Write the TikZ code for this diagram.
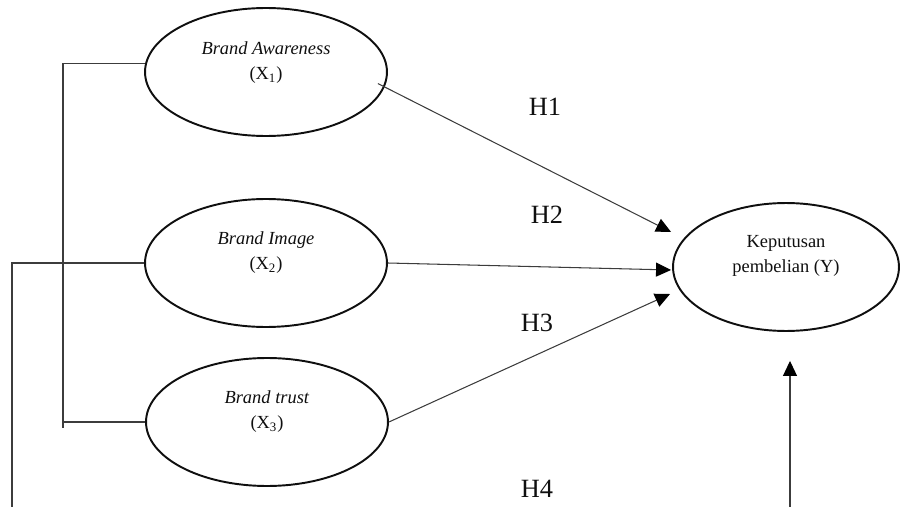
\documentclass[tikz,border=0pt]{standalone}
\usepackage{fontspec}
\setmainfont{Liberation Serif}
\usepackage{tikz}
\usetikzlibrary{shapes.geometric,arrows.meta,positioning,calc}
\usepackage{xcolor}
\definecolor{lineGray}{RGB}{60,60,60}
\definecolor{inkBlack}{RGB}{15,15,15}

\tikzset{
  latent/.style={ellipse, draw=inkBlack, line width=1.1pt, inner sep=0pt,
                 minimum width=4.84cm, minimum height=2.56cm},
  vtext/.style={align=center, text=inkBlack,
                font=\fontsize{10.5}{14.2}\selectfont},
  link/.style={draw=lineGray, line width=0.6pt},
  arr/.style={-{Triangle[length=0.3cm,width=0.28cm,color=black]}},
  hyp/.style={font=\fontsize{15}{18}\selectfont, text=inkBlack}
}

\begin{document}
\begin{tikzpicture}[x=0.02cm, y=-0.02cm]
  \useasboundingbox (0,0) rectangle (904,507);
  % Independent variables
  \node[latent] (aware) at (266,72) {};
  \node[latent] (image) at (266,263) {};
  \node[latent] (trust) at (267,422) {};
  % Dependent variable
  \node[latent, minimum width=4.52cm] (kep) at (786,267) {};
  % Texts inside the ellipses
  \node[vtext] (aware-t) at ($(aware.center)+(0,-9)$)
    {\textit{Brand Awareness}\\(X\textsubscript{1})};
  \node[vtext] (image-t) at ($(image.center)+(0,-10)$)
    {\textit{Brand Image}\\(X\textsubscript{2})};
  \node[vtext] (trust-t) at ($(trust.center)+(0,-10)$)
    {\textit{Brand trust}\\(X\textsubscript{3})};
  \node[vtext] (kep-t) at ($(kep.center)+(0,-11)$)
    {Keputusan\\pembelian (Y)};
  % Free ends
  \coordinate (brk) at (63,428);
  \coordinate (low) at (12,507);
  \coordinate (h4) at (790,507);
  % Connectors
  \draw[link] (aware.176) -| (brk);
  \draw[link] (trust.west) -- (trust.west -| brk);
  \draw[link] (image.west) -| (low);
  \draw[link, arr] ($(aware.-8)+(-6,-5)$) -- ($(kep.west)+(-1,-35)$);
  \draw[link, arr] (image.east) -- ($(kep.west)+(-1,3)$);
  \draw[link, arr] (trust.east) -- ($(kep.west)+(-2,27)$);
  \draw[link, arr] (h4) -- ($(kep.south)+(4,29)$);
  % Hypothesis labels
  \node[hyp] (h1-l) at (545,107) {H1};
  \node[hyp] (h2-l) at (547,215) {H2};
  \node[hyp] (h3-l) at (537,323) {H3};
  \node[hyp] (h4-l) at (537,489) {H4};
\end{tikzpicture}
\end{document}
